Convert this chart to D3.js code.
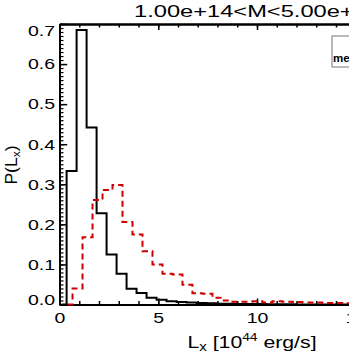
<!DOCTYPE html>
<html>
<head>
<meta charset="utf-8">
<script src="https://cdn.jsdelivr.net/npm/d3@7"></script>
<style>
  body { margin: 0; background: #fff; }
  svg { display: block; }
  text { font-family: "Liberation Sans", Arial, sans-serif; fill: #000; }
</style>
</head>
<body>
<div id="chart"></div>
<script>
// chart data
const title = "1.00e+14<M<5.00e+14";
const xTicks = [0, 5, 10, 15, 20];
const yTicks = [0, 0.1, 0.2, 0.3, 0.4, 0.5, 0.6, 0.7];
const binWidth = 0.506;

// black solid histogram (first bin starts at blackStart)
const blackStart = -0.146;
const blackValues = [0, 0.333, 0.685, 0.442, 0.228, 0.125, 0.077, 0.039, 0.029, 0.017,
    0.012, 0.008, 0.006, 0.005, 0.004, 0.003, 0.002, 0.002, 0.001, 0.001,
    0.001, 0.0005, 0.0005, 0.0005, 0, 0, 0, 0, 0, 0, 0];

// red dashed histogram
const redStart = 0.154;
const redValues = [0, 0.040, 0.168, 0.261, 0.286, 0.298, 0.206, 0.175, 0.133, 0.100,
    0.077, 0.075, 0.049, 0.028, 0.027, 0.017, 0.010, 0.007, 0.007, 0.008,
    0.005, 0.008, 0.007, 0.006, 0.005, 0.005, 0.004, 0.004, 0.003, 0.004, 0.003, 0.002];

const legendText = "mean";

// dimensions
const width = 349, height = 353;
const plot = {left: 59.5, top: 24, bottom: 304.5, right: 454.5};

const x = d3.scaleLinear().domain([0, 20]).range([plot.left, plot.right]);
const y = d3.scaleLinear().domain([0, 0.7]).range([plot.bottom, plot.top]);

const svg = d3.select("#chart").append("svg")
    .attr("width", width)
    .attr("height", height);

const stretch = 1.3;

function styleAxis(g, tickWidth) {
    g.select(".domain").attr("stroke-width", 2).attr("stroke", "#000");
    g.selectAll(".tick line").attr("stroke-width", tickWidth).attr("stroke", "#000");
}

// minor ticks
svg.append("g")
    .attr("transform", "translate(0," + plot.bottom + ")")
    .call(d3.axisBottom(x).tickValues(d3.range(0, 21, 1)).tickFormat("").tickSizeInner(-3.5).tickSizeOuter(0))
    .call(g => styleAxis(g, 1.5));
svg.append("g")
    .attr("transform", "translate(0," + plot.top + ")")
    .call(d3.axisTop(x).tickValues(d3.range(0, 21, 1)).tickFormat("").tickSizeInner(-3.5).tickSizeOuter(0))
    .call(g => styleAxis(g, 1.5));
svg.append("g")
    .attr("transform", "translate(" + plot.left + ",0)")
    .call(d3.axisLeft(y).tickValues(d3.range(0, 71, 1).map(d => d / 100)).tickFormat("").tickSizeInner(-4).tickSizeOuter(0))
    .call(g => styleAxis(g, 1.2));

// major ticks with labels
const xAxis = svg.append("g")
    .attr("transform", "translate(0," + plot.bottom + ")")
    .call(d3.axisBottom(x).tickValues(xTicks).tickFormat(d3.format("d")).tickSizeInner(-6).tickSizeOuter(0).tickPadding(8))
    .call(g => styleAxis(g, 1.5));
xAxis.selectAll("text")
    .attr("font-size", 15)
    .attr("transform", "scale(" + stretch + ",1)");

svg.append("g")
    .attr("transform", "translate(0," + plot.top + ")")
    .call(d3.axisTop(x).tickValues(xTicks).tickFormat("").tickSizeInner(-6).tickSizeOuter(0))
    .call(g => styleAxis(g, 1.5));

const yAxis = svg.append("g")
    .attr("transform", "translate(" + plot.left + ",0)")
    .call(d3.axisLeft(y).tickValues(yTicks).tickFormat(d3.format(".1f")).tickSizeInner(-7.7).tickSizeOuter(0).tickPadding(3.5))
    .call(g => styleAxis(g, 1.5));
yAxis.selectAll("text")
    .attr("font-size", 15)
    .attr("x", -4.5 / stretch)
    .attr("transform", d => "translate(0," + (d === 0 ? -4.5 : d === 0.7 ? 6.5 : 0) + ") scale(" + stretch + ",1)");

// histograms (IDL psym=10 style steps through bin centres)
const stepLine = start => d3.line()
    .x((d, i) => x(start + (i + 0.5) * binWidth))
    .y(d => y(d))
    .curve(d3.curveStep);

svg.append("path")
    .datum(blackValues)
    .attr("d", stepLine(blackStart))
    .attr("fill", "none")
    .attr("stroke", "#000")
    .attr("stroke-width", 2);

svg.append("path")
    .datum(redValues)
    .attr("d", stepLine(redStart))
    .attr("fill", "none")
    .attr("stroke", "#cc0000")
    .attr("stroke-width", 2)
    .attr("stroke-dasharray", "6,4");

// title
svg.append("text")
    .attr("transform", "translate(" + ((plot.left + plot.right) / 2) + ",16.5) scale(1.48,1)")
    .attr("text-anchor", "middle")
    .attr("font-size", 16)
    .text(title);

// x label
const xLab = svg.append("text")
    .attr("transform", "translate(252,348) scale(1.25,1)")
    .attr("text-anchor", "middle")
    .attr("font-size", 17);
xLab.append("tspan").text("L");
xLab.append("tspan").attr("font-size", 12).attr("dy", 3).text("x");
xLab.append("tspan").attr("dy", -3).text(" [10");
xLab.append("tspan").attr("font-size", 11).attr("dy", -7).text("44");
xLab.append("tspan").attr("dy", 7).text(" erg/s]");

// y label
const yLab = svg.append("text")
    .attr("transform", "translate(17,165) rotate(-90) scale(1.1,1)")
    .attr("text-anchor", "middle")
    .attr("font-size", 16);
yLab.append("tspan").text("P(L");
yLab.append("tspan").attr("font-size", 11).attr("dy", 3).text("x");
yLab.append("tspan").attr("dy", -3).text(")");

// legend box (cut by the right edge)
svg.append("rect")
    .attr("x", 332).attr("y", 36)
    .attr("width", 60).attr("height", 31)
    .attr("fill", "#fff")
    .attr("stroke", "#777")
    .attr("stroke-width", 1);
svg.append("text")
    .attr("x", 333).attr("y", 61.5)
    .attr("font-size", 11.5)
    .attr("font-weight", "bold")
    .style("fill", "#000")
    .text(legendText);
</script>
</body>
</html>
